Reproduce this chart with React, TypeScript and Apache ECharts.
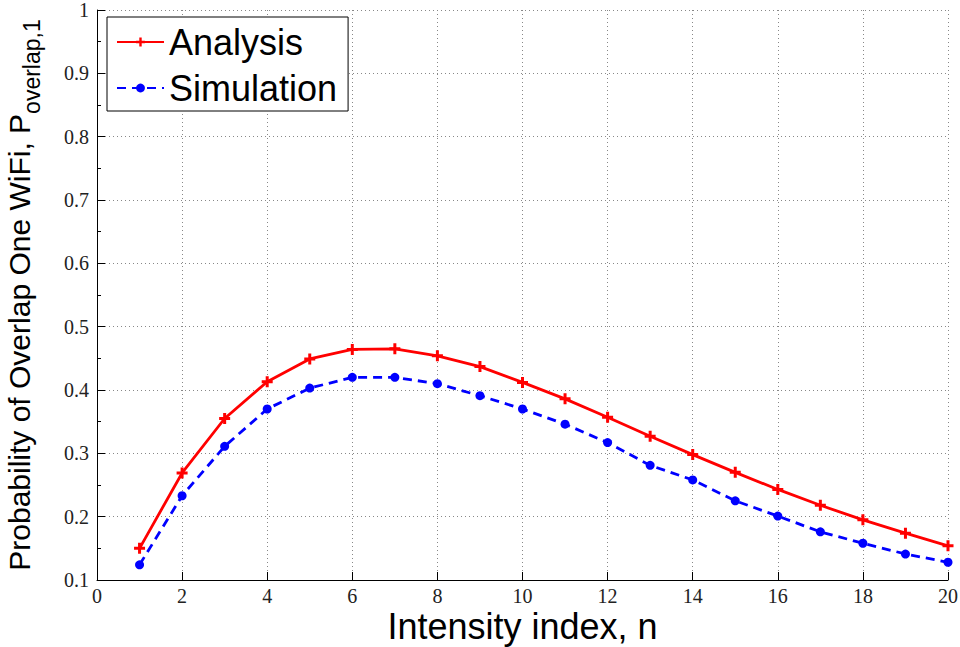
import React, { useEffect, useRef } from "react";
import * as echarts from "echarts";

const intensityIndex = [1, 2, 3, 4, 5, 6, 7, 8, 9, 10, 11, 12, 13, 14, 15, 16, 17, 18, 19, 20];
const analysisValues = [0.150, 0.269, 0.355, 0.413, 0.449, 0.464, 0.465, 0.454, 0.437, 0.412, 0.386, 0.357, 0.327, 0.298, 0.270, 0.243, 0.218, 0.195, 0.174, 0.154];
const simulationValues = [0.124, 0.233, 0.311, 0.370, 0.403, 0.420, 0.420, 0.410, 0.391, 0.370, 0.346, 0.317, 0.281, 0.258, 0.225, 0.201, 0.176, 0.158, 0.141, 0.128];

const seriesNames = ["Analysis", "Simulation"];
const xAxisTitle = "Intensity index, n";
const yAxisTitleMain = "Probability of Overlap One WiFi, P";
const yAxisTitleSub = "overlap,1";

const plusPath = "path://M4,0H7V4H11V7H7V11H4V7H0V4H4Z";

export default function App() {
  const ref = useRef<HTMLDivElement>(null);
  useEffect(() => {
    if (!ref.current) return;
    const chart = echarts.init(ref.current, undefined, { renderer: "svg" });
    const serif = "Liberation Serif";
    const sans = "Liberation Sans";
    chart.setOption({
      animation: false,
      backgroundColor: "#ffffff",
      grid: {
        left: 97,
        right: 12,
        top: 10,
        bottom: 67,
        containLabel: false,
        outerBoundsMode: "none",
      },
      legend: {
        orient: "vertical",
        left: 107,
        top: 17,
        padding: [7, 11, 5, 9],
        itemGap: 10,
        itemWidth: 47,
        itemHeight: 11,
        backgroundColor: "#ffffff",
        borderColor: "#000000",
        borderWidth: 1,
        borderRadius: 0,
        textStyle: { fontSize: 36, fontFamily: sans, color: "#000" },
        data: seriesNames,
      },
      xAxis: {
        type: "value",
        min: 0,
        max: 20,
        interval: 2,
        name: xAxisTitle,
        nameLocation: "middle",
        nameGap: 31,
        nameMoveOverlap: false,
        nameTextStyle: { fontSize: 36, fontFamily: sans, color: "#000", lineHeight: 30 },
        axisLine: { show: true, onZero: false, lineStyle: { color: "#000", width: 1 } },
        axisTick: { show: true, inside: true, length: 8, lineStyle: { color: "#000" } },
        axisLabel: { fontSize: 20, fontFamily: serif, color: "#222", margin: 7, lineHeight: 18 },
        splitLine: { show: true, lineStyle: { color: "#888", type: [1, 3], width: 1 } },
      },
      yAxis: {
        type: "value",
        min: 0.1,
        max: 1,
        interval: 0.1,
        name: "{a|" + yAxisTitleMain + "}{b|" + yAxisTitleSub + "}",
        nameLocation: "middle",
        nameRotate: 90,
        nameGap: 54,
        nameMoveOverlap: false,
        nameTextStyle: {
          fontFamily: sans,
          color: "#000",
          rich: {
            a: { fontSize: 30, fontFamily: sans, color: "#000", verticalAlign: "top" },
            b: { fontSize: 23, fontFamily: sans, color: "#000", verticalAlign: "bottom", lineHeight: 39 },
          },
        },
        axisLine: { show: true, onZero: false, lineStyle: { color: "#000", width: 1 } },
        axisTick: { show: true, inside: true, length: 8, lineStyle: { color: "#000" } },
        minorTick: { show: true, splitNumber: 2, length: 4, lineStyle: { color: "#000" } },
        axisLabel: { fontSize: 20, fontFamily: serif, color: "#222", margin: 8 },
        splitLine: { show: true, lineStyle: { color: "#888", type: [1, 3], width: 1 } },
      },
      series: [
        {
          name: seriesNames[0],
          type: "line",
          data: intensityIndex.map((n, i) => [n, analysisValues[i]]),
          symbol: plusPath,
          symbolSize: 11,
          showAllSymbol: true,
          lineStyle: { color: "#ff0000", width: 2.8 },
          itemStyle: { color: "#ff0000" },
          z: 3,
        },
        {
          name: seriesNames[1],
          type: "line",
          data: intensityIndex.map((n, i) => [n, simulationValues[i]]),
          symbol: "circle",
          symbolSize: 9,
          showAllSymbol: true,
          lineStyle: { color: "#0000ff", width: 2.8, type: [9, 6] },
          itemStyle: { color: "#0000ff" },
          z: 2,
        },
      ],
    });
    return () => chart.dispose();
  }, []);
  return (
    <div
      ref={ref}
      style={{ position: "fixed", left: 0, top: 0, width: 960, height: 647, background: "#fff" }}
    />
  );
}
